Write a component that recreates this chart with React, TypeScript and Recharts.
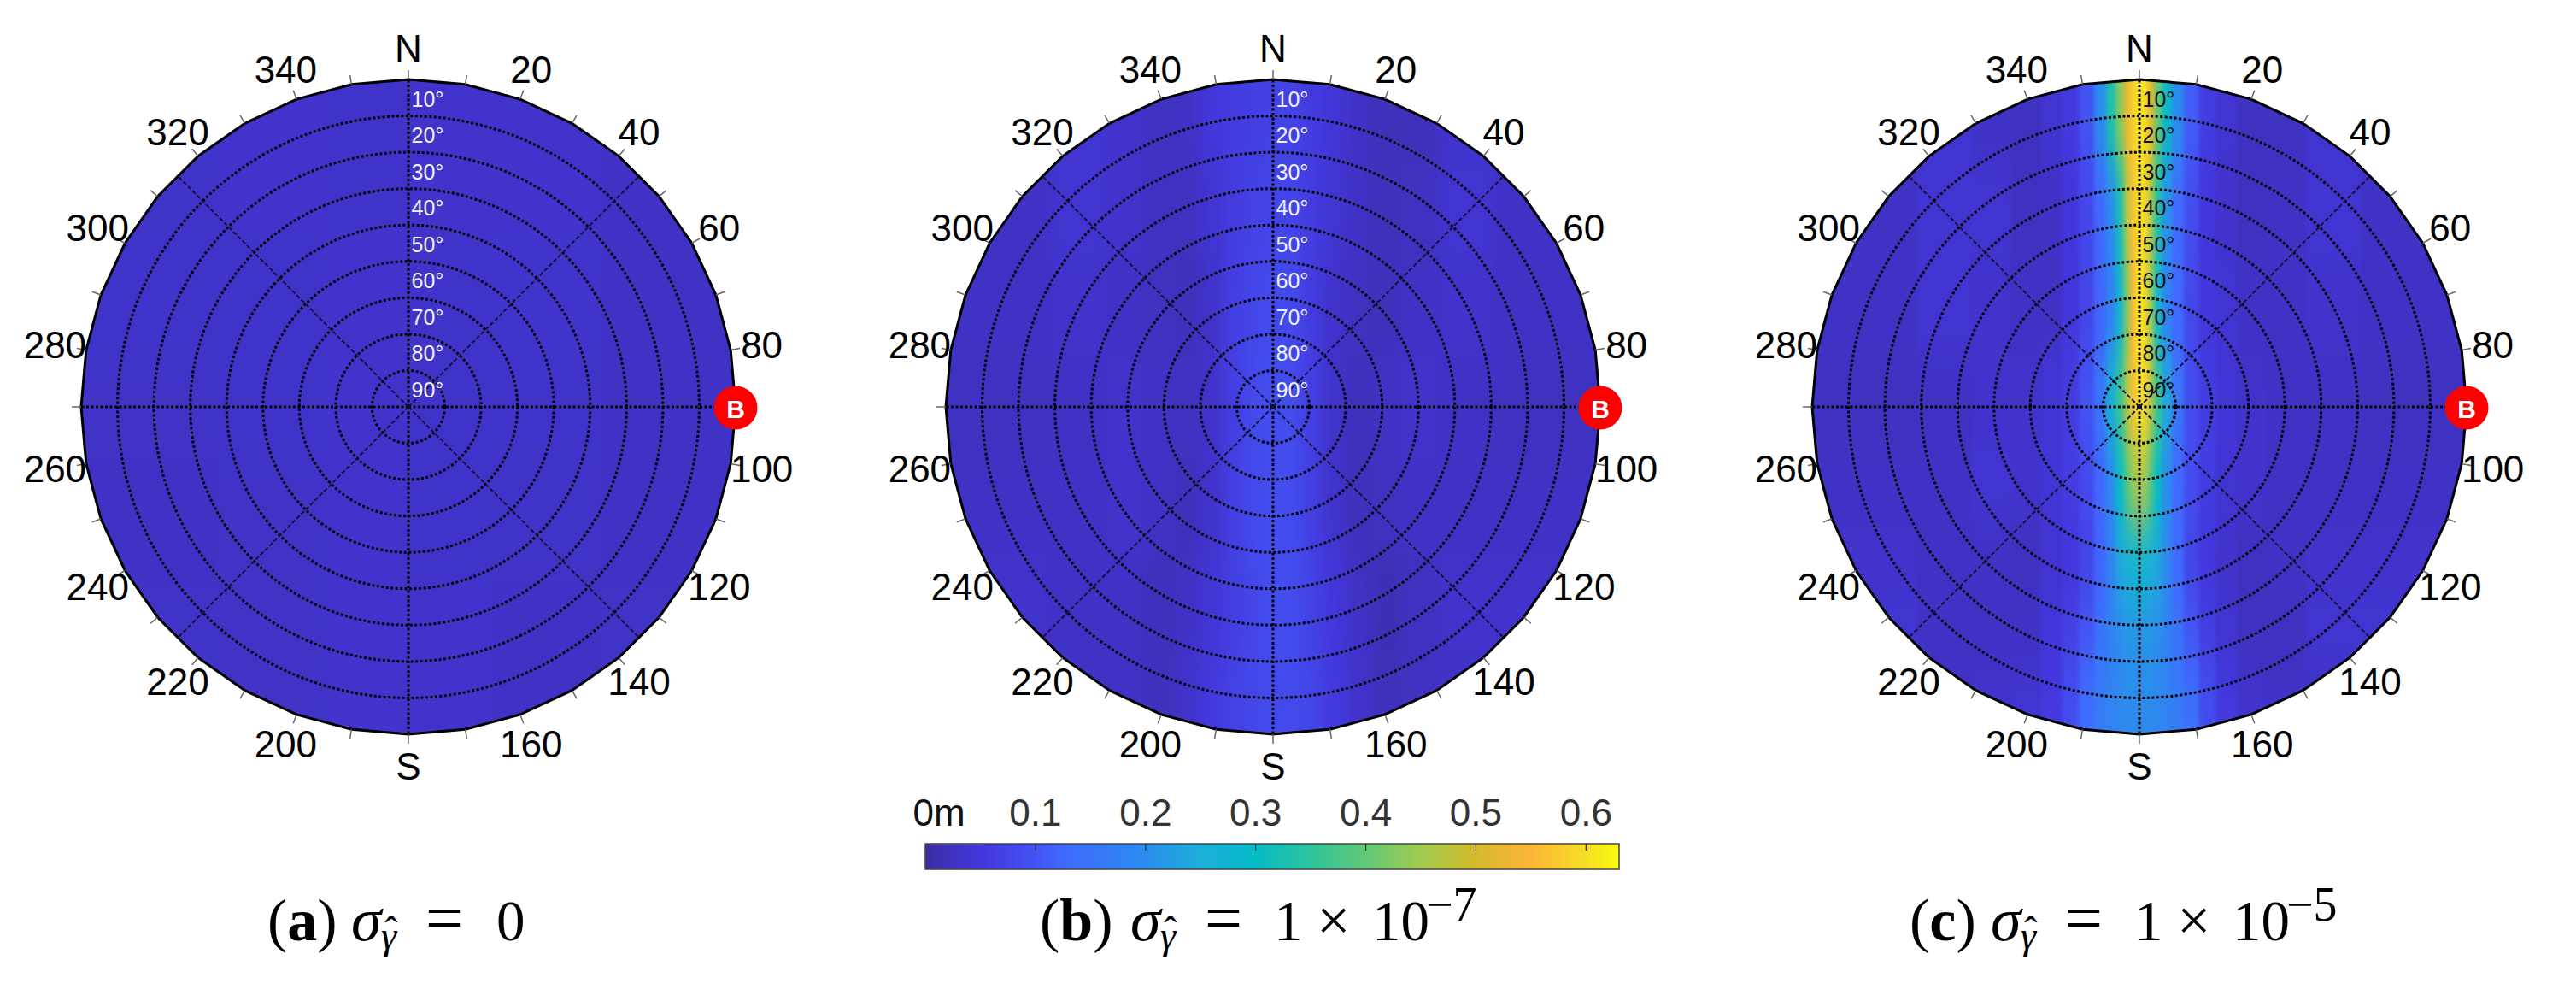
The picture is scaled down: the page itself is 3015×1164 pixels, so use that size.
import React from "react";
import {
  Bar,
  BarChart,
  PolarAngleAxis,
  PolarGrid,
  PolarRadiusAxis,
  Radar,
  RadarChart,
  ReferenceLine,
  Scatter,
  ScatterChart,
  XAxis,
  YAxis,
} from "recharts";

// azimuth ticks every 10 deg, labels every 20 deg
const AZIMUTHS = [
  0, 10, 20, 30, 40, 50, 60, 70, 80, 90, 100, 110, 120, 130, 140, 150, 160, 170,
  180, 190, 200, 210, 220, 230, 240, 250, 260, 270, 280, 290, 300, 310, 320, 330, 340, 350,
];
const AZIMUTH_LABELS = [
  "N", "", "20", "", "40", "", "60", "", "80", "", "100", "", "120", "", "140", "", "160", "",
  "S", "", "200", "", "220", "", "240", "", "260", "", "280", "", "300", "", "320", "", "340", "",
];
const STATION_AZIMUTH = 90;

// zenith angle of rings, elevation label is 90 - zenith
const RING_ZENITHS = [10, 20, 30, 40, 50, 60, 70, 80];
const CARDINAL_ANGLES = [0, 90, 180, 270];
const DIAGONAL_ANGLES = [45, 135, 225, 315];

// colorbar (metres)
const SCALE_VALUES = [0, 0.05, 0.1, 0.125, 0.2, 0.25, 0.3, 0.35, 0.4, 0.45, 0.5, 0.55, 0.6, 0.63];
const SCALE_COLORS = [
  "#3b2da3", "#4336dc", "#4353f3", "#4169ff", "#2b8ced", "#1dafd9", "#05bbc6",
  "#2fc49c", "#62c878", "#a0cb50", "#d4ba2c", "#fdb538", "#f5e025", "#f8fa0f",
];
const SCALE_TICKS = [0, 0.1, 0.2, 0.3, 0.4, 0.5, 0.6];
const SCALE_MAX = 0.63;

// heat grid, x/y in percent of the plot radius (x east, y north), values in metres
const A_COLUMNS = [-78.3, -39.2, -13, 13, 39.2, 78.3];
const A_ROWS = [78, 31, 0, -31, -78];
const A_VALUES = [
  [0.032, 0.036, 0.033, 0.035, 0.036, 0.03],
  [0.034, 0.033, 0.036, 0.034, 0.037, 0.03],
  [0.031, 0.034, 0.035, 0.034, 0.033, 0.03],
  [0.03, 0.031, 0.035, 0.033, 0.032, 0.03],
  [0.032, 0.031, 0.035, 0.035, 0.03, 0.031],
];

const B_COLUMNS = [-78.3, -57.4, -44.4, -33.9, -26.1, -18.3, -11.7, -5.2, 0, 5.2, 11.7, 18.3, 26.1, 33.9, 44.4, 57.4, 78.3];
const B_ROWS = [89.8, 60, 31, 0, -31, -60, -90.3];
const B_VALUES = [
  [0.03, 0.04, 0.035, 0.025, 0.03, 0.05, 0.06, 0.065, 0.07, 0.07, 0.06, 0.045, 0.03, 0.02, 0.02, 0.035, 0.03],
  [0.03, 0.04, 0.035, 0.025, 0.025, 0.04, 0.06, 0.07, 0.075, 0.075, 0.06, 0.04, 0.03, 0.02, 0.025, 0.04, 0.03],
  [0.03, 0.035, 0.03, 0.025, 0.02, 0.035, 0.065, 0.08, 0.085, 0.085, 0.06, 0.035, 0.025, 0.02, 0.03, 0.035, 0.03],
  [0.025, 0.03, 0.035, 0.03, 0.025, 0.035, 0.065, 0.085, 0.09, 0.09, 0.065, 0.035, 0.02, 0.03, 0.035, 0.03, 0.025],
  [0.03, 0.03, 0.035, 0.03, 0.02, 0.035, 0.065, 0.085, 0.09, 0.09, 0.065, 0.035, 0.02, 0.025, 0.03, 0.03, 0.03],
  [0.035, 0.03, 0.03, 0.02, 0.03, 0.045, 0.065, 0.08, 0.09, 0.09, 0.07, 0.05, 0.03, 0.015, 0.025, 0.035, 0.035],
  [0.03, 0.03, 0.03, 0.02, 0.035, 0.055, 0.07, 0.08, 0.085, 0.085, 0.075, 0.055, 0.035, 0.02, 0.025, 0.03, 0.03],
];

const C_COLUMNS = [
  -78.3, -57.4, -44.4, -33.9, -26.1, -20.9, -15.7, -11.7, -8.4, -5.7, -3.7, -1.8, 0,
  1.8, 3.7, 5.7, 8.4, 11.7, 15.7, 20.9, 26.1, 33.9, 44.4, 57.4, 78.3,
];
const C_ROWS = [89.8, 60, 31, 0, -21.9, -48.6, -70.5, -90.3];
const C_VALUES = [
  [0.03, 0.04, 0.03, 0.025, 0.04, 0.055, 0.1, 0.2, 0.33, 0.43, 0.52, 0.58, 0.6, 0.6, 0.52, 0.4, 0.29, 0.2, 0.11, 0.06, 0.04, 0.025, 0.025, 0.04, 0.035],
  [0.03, 0.04, 0.04, 0.025, 0.03, 0.05, 0.08, 0.125, 0.2, 0.32, 0.46, 0.56, 0.6, 0.59, 0.46, 0.33, 0.21, 0.13, 0.09, 0.05, 0.035, 0.025, 0.03, 0.04, 0.03],
  [0.03, 0.04, 0.035, 0.03, 0.03, 0.05, 0.075, 0.12, 0.18, 0.27, 0.42, 0.55, 0.61, 0.59, 0.44, 0.28, 0.18, 0.125, 0.08, 0.05, 0.04, 0.03, 0.03, 0.035, 0.03],
  [0.025, 0.03, 0.035, 0.035, 0.045, 0.06, 0.1, 0.15, 0.26, 0.36, 0.46, 0.56, 0.6, 0.59, 0.47, 0.36, 0.24, 0.15, 0.09, 0.06, 0.045, 0.035, 0.03, 0.03, 0.025],
  [0.03, 0.03, 0.04, 0.035, 0.045, 0.06, 0.085, 0.125, 0.2, 0.3, 0.38, 0.44, 0.47, 0.45, 0.38, 0.3, 0.2, 0.13, 0.09, 0.06, 0.04, 0.035, 0.03, 0.03, 0.03],
  [0.035, 0.03, 0.03, 0.025, 0.04, 0.05, 0.075, 0.12, 0.18, 0.24, 0.26, 0.27, 0.27, 0.27, 0.26, 0.24, 0.19, 0.125, 0.075, 0.05, 0.035, 0.025, 0.03, 0.035, 0.035],
  [0.04, 0.03, 0.03, 0.03, 0.05, 0.07, 0.105, 0.145, 0.18, 0.2, 0.21, 0.21, 0.21, 0.21, 0.21, 0.2, 0.18, 0.145, 0.105, 0.065, 0.04, 0.025, 0.025, 0.04, 0.04],
  [0.03, 0.03, 0.035, 0.04, 0.055, 0.09, 0.135, 0.165, 0.18, 0.19, 0.2, 0.2, 0.2, 0.2, 0.2, 0.19, 0.18, 0.165, 0.14, 0.09, 0.055, 0.035, 0.03, 0.03, 0.03],
];

const CHART_SIZE = 960;
const CENTER = CHART_SIZE / 2;
const RADIUS = 383;
const CENTER_Y = 476;
const PX_PER_UNIT = RADIUS / 100;
const GRID_EDGE = CENTER / PX_PER_UNIT;

const hexToRgb = (hex: string) => [1, 3, 5].map((i) => parseInt(hex.slice(i, i + 2), 16));

function colorOf(value: number) {
  let i = 0;
  while (i < SCALE_VALUES.length - 2 && value > SCALE_VALUES[i + 1]) i++;
  const t = Math.min(1, Math.max(0, (value - SCALE_VALUES[i]) / (SCALE_VALUES[i + 1] - SCALE_VALUES[i])));
  const a = hexToRgb(SCALE_COLORS[i]);
  const b = hexToRgb(SCALE_COLORS[i + 1]);
  return `rgb(${a.map((c, k) => Math.round(c + (b[k] - c) * t)).join(",")})`;
}

// cell edges are halfway to the neighbours, outer cells run past the circle
function cellEdges(centers: number[]) {
  return centers.map((c, i) => [
    i === 0 ? (centers[0] < centers[1] ? -GRID_EDGE : GRID_EDGE) : (centers[i - 1] + c) / 2,
    i === centers.length - 1 ? (centers[0] < centers[1] ? GRID_EDGE : -GRID_EDGE) : (centers[i + 1] + c) / 2,
  ]);
}

function buildCells(columns: number[], rows: number[], values: number[][]) {
  const xEdges = cellEdges(columns);
  const yEdges = cellEdges(rows);
  return rows.flatMap((y, r) =>
    columns.map((x, c) => ({
      x,
      y,
      value: values[r][c],
      x0: xEdges[c][0],
      x1: xEdges[c][1],
      y0: yEdges[r][0],
      y1: yEdges[r][1],
    }))
  );
}

const boundaryData = AZIMUTHS.map((az) => ({ az, edge: 90 }));

const clipPolygon = AZIMUTHS.map((az) => {
  const a = (az * Math.PI) / 180;
  return `${CENTER + (RADIUS + 0.5) * Math.sin(a)}px ${CENTER - (RADIUS + 0.5) * Math.cos(a)}px`;
}).join(",");

const renderCell = (props: any) => {
  const d = props.payload;
  return (
    <rect
      x={props.cx + (d.x0 - d.x) * PX_PER_UNIT - 0.5}
      y={props.cy - (d.y0 - d.y) * PX_PER_UNIT - 0.5}
      width={(d.x1 - d.x0) * PX_PER_UNIT + 1}
      height={(d.y0 - d.y1) * PX_PER_UNIT + 1}
      fill={colorOf(d.value)}
    />
  );
};

const renderAzimuthTick = (props: any) => {
  const label = AZIMUTH_LABELS[AZIMUTHS.indexOf(Number(props.payload.value))];
  const dx = props.x - CENTER;
  const dy = props.y - CENTER;
  const k = 420 / Math.hypot(dx, dy);
  return (
    <text
      x={CENTER + dx * k}
      y={CENTER + dy * k}
      textAnchor="middle"
      dominantBaseline="central"
      fontFamily="Liberation Sans"
      fontSize={44}
      fill="#000"
    >
      {label}
    </text>
  );
};

const renderStation = (props: any) => {
  if (AZIMUTHS[props.index] !== STATION_AZIMUTH) return <g key={props.index} />;
  return (
    <g key={props.index}>
      <circle cx={props.cx} cy={props.cy + 1} r={25.5} fill="#ff0000" />
      <text
        x={props.cx}
        y={props.cy + 2}
        textAnchor="middle"
        dominantBaseline="central"
        fontFamily="Liberation Sans"
        fontWeight={700}
        fontSize={30}
        fill="#fff"
      >
        B
      </text>
    </g>
  );
};

function Panel({ left, cells, labelColor, soft }: { left: number; cells: any[]; labelColor: string; soft?: boolean }) {
  const renderElevationTick = (props: any) => {
    const zenith = Number(props.payload.value);
    if (zenith === 90) return <g />;
    return (
      <text
        x={props.x + 3.5}
        y={props.y - 20}
        textAnchor="start"
        dominantBaseline="central"
        fontFamily="Liberation Sans"
        fontSize={25}
        fill={labelColor}
      >
        {`${90 - zenith}°`}
      </text>
    );
  };

  return (
    <div style={{ position: "absolute", left: left - CENTER, top: CENTER_Y - CENTER, width: CHART_SIZE, height: CHART_SIZE }}>
      <div style={{ position: "absolute", inset: 0, clipPath: `polygon(${clipPolygon})` }}>
        <ScatterChart
          width={CHART_SIZE}
          height={CHART_SIZE}
          margin={{ top: 0, right: 0, bottom: 0, left: 0 }}
          className={soft ? "heat-soft" : "heat"}
        >
          <XAxis type="number" dataKey="x" domain={[-GRID_EDGE, GRID_EDGE]} hide />
          <YAxis type="number" dataKey="y" domain={[-GRID_EDGE, GRID_EDGE]} hide />
          <Scatter data={cells} shape={renderCell} isAnimationActive={false} />
          <ReferenceLine x={80} stroke="#ffffff" strokeOpacity={0.22} strokeWidth={1.5} />
          <ReferenceLine y={79.6} stroke="#ffffff" strokeOpacity={0.12} strokeWidth={1.5} />
        </ScatterChart>
      </div>
      <div style={{ position: "absolute", inset: 0 }}>
        <RadarChart
          width={CHART_SIZE}
          height={CHART_SIZE}
          cx={CENTER}
          cy={CENTER}
          outerRadius={RADIUS}
          data={boundaryData}
          margin={{ top: 0, right: 0, bottom: 0, left: 0 }}
        >
          <PolarGrid
            gridType="circle"
            polarAngles={CARDINAL_ANGLES}
            polarRadius={RING_ZENITHS.map((z) => (z / 90) * RADIUS)}
            stroke="#000"
            strokeWidth={3}
            strokeDasharray="3 2.5"
          />
          <PolarGrid
            gridType="circle"
            polarAngles={DIAGONAL_ANGLES}
            polarRadius={[]}
            stroke="#15123a"
            strokeWidth={2}
            strokeDasharray="5 2.5"
          />
          <PolarAngleAxis
            dataKey="az"
            axisLine={false}
            tickSize={11}
            tickLine={{ stroke: "#666", strokeWidth: 1.5 }}
            tick={renderAzimuthTick}
          />
          <PolarRadiusAxis
            angle={90}
            domain={[0, 90]}
            tickCount={10}
            axisLine={false}
            tickLine={false}
            tick={renderElevationTick}
          />
          <Radar
            dataKey="edge"
            stroke="#000"
            strokeWidth={3}
            fill="none"
            dot={renderStation}
            isAnimationActive={false}
          />
        </RadarChart>
      </div>
    </div>
  );
}

const renderScaleTick = (props: any) => {
  const v = Number(props.payload.value);
  return (
    <g>
      {v > 0 && <line x1={props.x} x2={props.x} y1={props.y} y2={props.y + 8} stroke="#333" strokeWidth={1.2} />}
      <text
        x={v === 0 ? props.x + 16 : props.x}
        y={props.y - 37}
        textAnchor="middle"
        dominantBaseline="central"
        fontFamily="Liberation Sans"
        fontSize={44}
        fill={v === 0 ? "#111" : "#333"}
      >
        {v === 0 ? "0m" : v.toFixed(1)}
      </text>
    </g>
  );
};

function ColorBar() {
  return (
    <div style={{ position: "absolute", left: 1033, top: 920 }}>
      <BarChart
        width={912}
        height={102}
        layout="vertical"
        data={[{ label: "depth", value: SCALE_MAX }]}
        margin={{ top: 7, right: 50, bottom: 5, left: 50 }}
        barCategoryGap={0}
      >
        <defs>
          <linearGradient id="scaleFill" x1="0" y1="0" x2="1" y2="0">
            {SCALE_VALUES.map((v, i) => (
              <stop key={v} offset={`${(v / SCALE_MAX) * 100}%`} stopColor={SCALE_COLORS[i]} />
            ))}
          </linearGradient>
        </defs>
        <YAxis type="category" dataKey="label" hide />
        <Bar dataKey="value" fill="url(#scaleFill)" stroke="#444" strokeWidth={1.5} isAnimationActive={false} />
        <XAxis
          type="number"
          orientation="top"
          height={60}
          domain={[0, SCALE_MAX]}
          ticks={SCALE_TICKS}
          axisLine={false}
          tickLine={false}
          tickSize={0}
          tickMargin={0}
          interval={0}
          tick={renderScaleTick}
        />
      </BarChart>
    </div>
  );
}

// caption glyphs sit on one baseline, offsets measured from the opening paren
function Caption({ left, shift, letter, value, power }: { left: number; shift: number; letter: string; value: string; power?: string }) {
  const serif = "Liberation Serif";
  const base = 1100;
  return (
    <g fontFamily={serif} fill="#000">
      <text x={left} y={base} fontSize={70}>
        (<tspan fontWeight={700}>{letter}</tspan>)
      </text>
      <text x={left + 106 + shift} y={base} fontSize={72} fontStyle="italic">σ</text>
      <text x={left + 141 + shift} y={base + 10} fontSize={46} fontStyle="italic">γ</text>
      <text x={left + 153 + shift} y={base + 5} fontSize={46} textAnchor="middle">ˆ</text>
      <text x={left + 193 + shift} y={base} fontSize={78}>=</text>
      {power ? (
        <>
          <text x={left + 274 + shift} y={base} fontSize={67}>1</text>
          <text x={left + 324 + shift} y={base} fontSize={70}>×</text>
          <text x={left + 389 + shift} y={base} fontSize={67}>{value}</text>
          <text x={left + 452 + shift} y={base - 23} fontSize={56}>{power}</text>
        </>
      ) : (
        <text x={left + 276 + shift} y={base} fontSize={67}>{value}</text>
      )}
    </g>
  );
}

export default function App() {
  return (
    <div style={{ position: "absolute", left: 0, top: 0, width: 3015, height: 1164, overflow: "hidden", background: "#fff" }}>
      <svg width={0} height={0} style={{ position: "absolute" }}>
        <defs>
          <filter id="heatBlur" x="-5%" y="-5%" width="110%" height="110%" colorInterpolationFilters="sRGB">
            <feGaussianBlur stdDeviation="2.5 30" />
          </filter>
          <filter id="heatBlurSoft" x="-5%" y="-5%" width="110%" height="110%" colorInterpolationFilters="sRGB">
            <feGaussianBlur stdDeviation="9 30" />
          </filter>
        </defs>
      </svg>
      <style>{`.heat .recharts-scatter { filter: url(#heatBlur); } .heat-soft .recharts-scatter { filter: url(#heatBlurSoft); }`}</style>
      <Panel left={478} cells={buildCells(A_COLUMNS, A_ROWS, A_VALUES)} labelColor="#f0f0f8" soft />
      <Panel left={1490} cells={buildCells(B_COLUMNS, B_ROWS, B_VALUES)} labelColor="#f0f0f8" soft />
      <Panel left={2503.5} cells={buildCells(C_COLUMNS, C_ROWS, C_VALUES)} labelColor="#111" />
      <ColorBar />
      <svg width={3015} height={1164} style={{ position: "absolute", left: 0, top: 0, pointerEvents: "none" }}>
        <Caption left={313} shift={-8} letter="a" value="0" />
        <Caption left={1217} shift={0} letter="b" value="10" power="−7" />
        <Caption left={2235} shift={-11} letter="c" value="10" power="−5" />
      </svg>
    </div>
  );
}
